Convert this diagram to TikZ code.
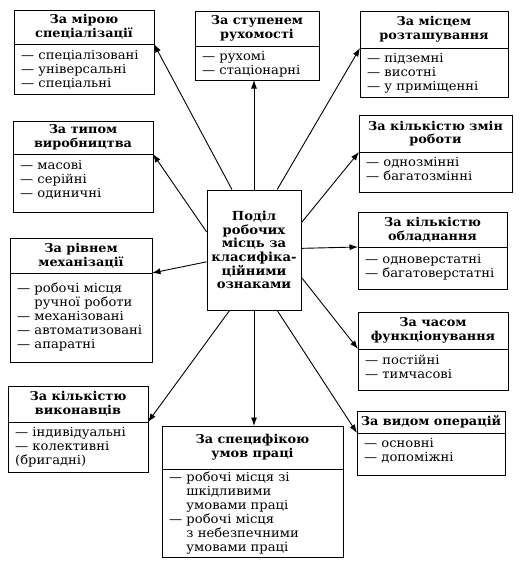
\documentclass[tikz,border=0pt]{standalone}
\usepackage{fontspec}
\setmainfont[FakeStretch=1.05]{DejaVu Serif}
\usetikzlibrary{arrows.meta}
\newcommand\catbox[9]{%
  \node[frame, anchor=north west, minimum width={#4-#2}, minimum height={#5-#3}] (#1) at (#2,#3) {};
  \coordinate (#1dl) at (#2,#6);
  \coordinate (#1dr) at (#4,#6);
  \draw[boxline] (#1dl) -- (#1dr);
  \node[head] (#1h) at ({(#2+#4)/2},{(#3+#6)/2}) {#7};
  \node[items] (#1i) at ({#2+7},{#6+#9-6.5}) {#8};
}
\newcommand\ind{\phantom{— }}
\begin{document}
\begin{tikzpicture}[x=1pt,y=-1pt,
  boxline/.style={line width=1pt},
  frame/.style={draw, line width=1pt, inner sep=0pt, outer sep=0pt},
  head/.style={font=\bfseries\fontsize{12.2}{13.6}\selectfont, align=center, inner sep=0pt},
  items/.style={font=\fontsize{12.5}{14}\selectfont, align=left, anchor=north west, inner sep=0pt},
  center/.style={draw, line width=1pt, minimum width=94, minimum height=120, inner sep=0pt,
    font=\bfseries\fontsize{12.5}{13.6}\selectfont, align=center},
  conn/.style={line width=0.9pt, -{Latex[length=8.5pt,width=6pt]}}
]
\useasboundingbox (0,0) rectangle (521,563);
\fill[white] (0,0) rectangle (521,563);

\catbox{b1}{14}{10}{154}{94}{44}{За мірою\\спеціалізації}{— спеціалізовані\\— універсальні\\— спеціальні}{13}
\catbox{b2}{195}{11}{319}{80}{46}{За ступенем\\рухомості}{— рухомі\\— стаціонарні}{12}
\catbox{b3}{360}{11}{508}{97}{48}{За місцем\\розташування}{— підземні\\— висотні\\— у приміщенні}{12}
\catbox{b4}{359}{115}{512}{192}{152}{За кількістю змін\\роботи}{— однозмінні\\— багатозмінні}{12}
\catbox{b5}{13}{121}{153}{212}{154}{За типом\\виробництва}{— масові\\— серійні\\— одиничні}{13}
\catbox{b6}{10}{238}{152}{362}{273}{За рівнем\\механізації}{— робочі місця\\\ind ручної роботи\\— механізовані\\— автоматизовані\\— апаратні}{16}
\catbox{b7}{358}{212}{507}{289}{247}{За кількістю\\обладнання}{— одноверстатні\\— багатоверстатні}{14}
\catbox{b8}{358}{312}{508}{390}{349}{За часом\\функціонування}{— постійні\\— тимчасові}{12}
\catbox{b9}{8}{386}{148}{472}{422}{За кількістю\\виконавців}{— індивідуальні\\— колективні\\(бригадні)}{12}
\catbox{b10}{162}{426}{343}{557}{469}{За специфікою\\умов праці}{— робочі місця зі\\\ind шкідливими\\\ind умовами праці\\— робочі місця\\\ind з небезпечними\\\ind умовами праці}{9}
\catbox{b11}{357}{411}{505}{475}{433}{За видом операцій}{— основні\\— допоміжні}{12}

\node[center] (c) at (254,250) {Поділ\\робочих\\місць за\\класифіка-\\ційними\\ознаками};

\draw[conn] (c.110) -- (b1dr);
\draw[conn] (c.north) -- (c.north |- b2.south);
\draw[conn] (c.69) -- (b3dl);
\draw[conn] (c.30) -- (b4dl);
\draw[conn] (c.159) -- (b5dr);
\draw[conn] (c.194) -- (b6dr);
\draw[conn] (c.2) -- (b7dl);
\draw[conn] (c.330) -- (b8dl);
\draw[conn] (c.248) -- (b9dr);
\draw[conn] (c.south) -- (c.south |- b10.north);
\draw[conn] (c.291) -- (b11dl);
\end{tikzpicture}
\end{document}
